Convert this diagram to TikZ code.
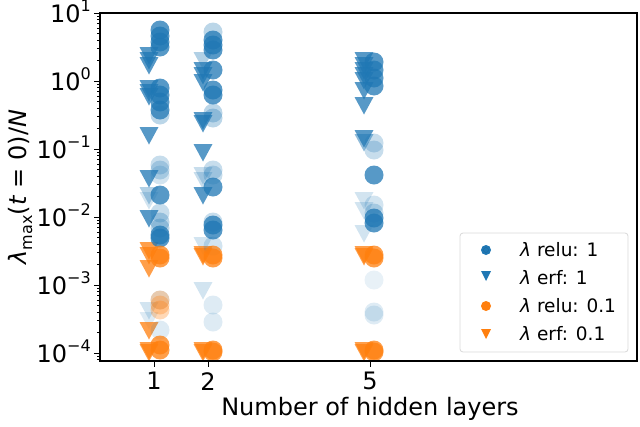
\documentclass[tikz,border=0pt]{standalone}
\usepackage{fontspec}
\setmainfont{DejaVu Sans}
\definecolor{cb}{HTML}{1F77B4}
\definecolor{co}{HTML}{FF7F0E}
\newcommand{\mc}[4][0.75]{\fill[#2,opacity=#1] (#3,#4) circle (9.5);}
\newcommand{\mt}[4][0.75]{\fill[#2,opacity=#1] (#3-9.5,#4-8) -- (#3+9.5,#4-8) -- (#3,#4+9.5) -- cycle;}
\newcommand{\sups}[1]{\raisebox{0.42em}{\fontsize{16}{18}\selectfont #1}}
\begin{document}
\begin{tikzpicture}[x=1pt,y=-1pt,font=\fontsize{24}{28}\selectfont]
\useasboundingbox (0,0) rectangle (640,426);
% column 1 triangles
\foreach \y in {55,60,65,88,92,96} {\mt{cb}{149}{\y}}
\foreach \y/\o in {135/0.75,178/0.75,195/0.35,200/0.2,218/0.75} {\mt[\o]{cb}{149}{\y}}
\foreach \y/\o in {310/0.2,320/0.15} {\mt[\o]{cb}{149}{\y}}
\foreach \y in {250,255,268,330,350,352} {\mt{co}{149}{\y}}
% column 1 circles
\foreach \y in {30,36,42,47,88,95,102,110} {\mc{cb}{160}{\y}}
\foreach \y/\o in {115/0.3,165/0.25,170/0.25,175/0.2,195/0.75,213/0.25,222/0.3,228/0.3,238/0.75,235/0.75,300/0.15,330/0.15} {\mc[\o]{cb}{160}{\y}}
\foreach \y in {255,258,345,350} {\mc{co}{160}{\y}}
\foreach \y in {300,305,310} {\mc[0.3]{co}{160}{\y}}
% column 2 triangles
\foreach \y/\o in {60/0.35,70/0.75,75/0.75,82/0.75,120/0.75,123/0.75,152/0.75,175/0.25,180/0.25,195/0.75,245/0.2,290/0.2} {\mt[\o]{cb}{203}{\y}}
\foreach \y in {254,256,350,352} {\mt{co}{203}{\y}}
% column 2 circles
\foreach \y/\o in {32/0.3,40/0.75,45/0.75,50/0.75,70/0.75,90/0.75,95/0.75,113/0.3,118/0.3,170/0.25,175/0.25,187/0.75,222/0.25,225/0.75,230/0.75,246/0.2,305/0.15,322/0.15} {\mc[\o]{cb}{213}{\y}}
\foreach \y in {255,258,350,352} {\mc{co}{213}{\y}}
% column 5 triangles
\foreach \y in {60,65,70,75,80,90,105} {\mt{cb}{364}{\y}}
\foreach \y/\o in {138/0.75,142/0.5,200/0.2,210/0.2,233/0.2} {\mt[\o]{cb}{364}{\y}}
\foreach \y in {254,256,350,352} {\mt{co}{364}{\y}}
% column 5 circles
\foreach \y in {62,70,78,86,175,218,223} {\mc{cb}{374}{\y}}
\foreach \y/\o in {143/0.25,150/0.25,205/0.2,213/0.25,280/0.1,312/0.15,315/0.15} {\mc[\o]{cb}{374}{\y}}
\foreach \y in {255,258,350,352} {\mc{co}{374}{\y}}
% axes frame
\draw[line width=1.2pt] (100,13) rectangle (637,361);
% x ticks
\foreach \x/\l in {154/1,208/2,370/5} {\draw[line width=1pt] (\x,361) -- (\x,367); \node[anchor=north,inner sep=0] at (\x,372) {\l};}
% y ticks
\foreach \e/\i in {1/0,0/1,−1/2,−2/3,−3/4,−4/5} {
  \pgfmathsetmacro\py{13+68*\i}
  \draw[line width=1pt] (100,\py) -- (94,\py);
  \node[anchor=base east,inner sep=0] at (91,\py+9) {10\sups{\e}};
}
\foreach \i in {0,...,4} {\foreach \m in {2,...,9} {
  \pgfmathsetmacro\py{13+68*\i+68*(1-log10(\m))}
  \draw[line width=0.6pt] (100,\py) -- (96.5,\py);}}
\foreach \m in {2,...,9} {\pgfmathsetmacro\py{353+68*(1-log10(\m))}\ifdim\py pt<361pt\draw[line width=0.6pt] (100,\py) -- (96.5,\py);\fi}
% labels
\node[anchor=north,inner sep=0] at (370,397) {Number of hidden layers};
\node[rotate=90,inner sep=0] at (20,187) {\textit{λ}\raisebox{-0.25em}{\fontsize{16}{18}\selectfont max}(\textit{t} = 0)/\textit{N}};
% legend
\draw[rounded corners=3pt,draw=black!15,fill=white,fill opacity=0.8,line width=0.8pt] (460,233) rectangle (628,352);
\begin{scope}[font=\fontsize{18.5}{22}\selectfont]
\fill[cb] (486,250) circle (5); \draw[cb!60!black,opacity=0.3] (486,250) circle (2.5);
\fill[cb] (481,271) -- (491,271) -- (486,281) -- cycle;
\fill[co] (486,306) circle (5);
\fill[co] (481,329) -- (491,329) -- (486,339) -- cycle;
\node[anchor=west,inner sep=0] at (520,250) {\textit{λ} relu: 1};
\node[anchor=west,inner sep=0] at (520,278) {\textit{λ} erf: 1};
\node[anchor=west,inner sep=0] at (520,306) {\textit{λ} relu: 0.1};
\node[anchor=west,inner sep=0] at (520,334) {\textit{λ} erf: 0.1};
\end{scope}
\end{tikzpicture}
\end{document}
